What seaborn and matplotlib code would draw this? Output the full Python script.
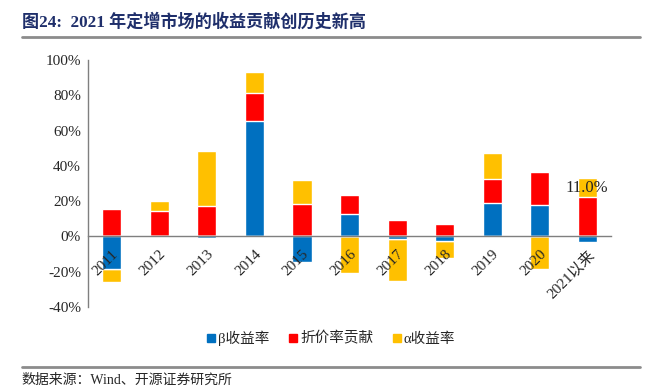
import numpy as np
import pandas as pd
import matplotlib
matplotlib.use("Agg")
import matplotlib.pyplot as plt
import seaborn as sns
from matplotlib.lines import Line2D

# ---------------- data ----------------
years = ["2011", "2012", "2013", "2014", "2015", "2016",
         "2017", "2018", "2019", "2020", "2021以来"]
beta = [-18.3, 0.0, -1.1, 65.5, -14.7, 12.5, -1.7, -2.5, 18.9, 17.7, -3.4]
discount = [15.5, 14.3, 17.0, 16.0, 18.1, 10.7, 9.2, 6.8, 13.9, 19.1, 22.1]
alpha = [-7.7, 5.9, 31.7, 11.9, 14.0, -20.8, -23.8, -10.0, 14.6, -18.5, 11.1]
series_names = ["β收益率", "折价率贡献", "α收益率"]
colors = ["#0070C0", "#FF0000", "#FFC000"]

# ---------------- style ----------------
sns.set_style("white")
plt.rcParams["font.family"] = ["Liberation Serif", "Noto Sans CJK SC"]
plt.rcParams["axes.unicode_minus"] = False

fig = plt.figure(figsize=(6.62, 3.9), dpi=100)
ax = fig.add_axes([0.133, 0.213, 0.79, 0.633])

# stacked bars (positive and negative parts stacked separately, blue->red->yellow outward)
vals = np.array([beta, discount, alpha])
pos = np.cumsum(np.clip(vals, 0, None), axis=0)
neg = np.cumsum(np.clip(vals, None, 0), axis=0)

for i in [2, 1, 0]:
    for stack in (pos, neg):
        df = pd.DataFrame({"year": years, "v": stack[i]})
        sns.barplot(data=df, x="year", y="v", color=colors[i], width=0.4,
                    saturation=1, ax=ax, order=years)

# label for 2021
ax.text(10, discount[10] + alpha[10] / 2, "11.0%", ha="center", va="center",
        fontsize=12, color="#262626", zorder=5)

# ---------------- axes ----------------
ax.set_axisbelow(False)
ax.set_ylim(-40, 100)
ax.set_xlim(-0.5, 10.5)
ax.set_yticks(np.arange(-40, 101, 20))
ax.set_yticklabels([f"{v}%" for v in range(-40, 101, 20)], fontsize=11)
ax.set_xlabel("")
ax.set_ylabel("")

ax.spines["bottom"].set_position(("data", 0))
for s in ["top", "right"]:
    ax.spines[s].set_visible(False)
for s in ["left", "bottom"]:
    ax.spines[s].set_color("#7f7f7f")
    ax.spines[s].set_linewidth(1.0)
    ax.spines[s].set_zorder(4)

ax.set_xticks(range(len(years)))
ax.set_xticklabels(years, rotation=45, ha="right", rotation_mode="anchor",
                   fontsize=11)
ax.tick_params(axis="x", which="major", length=0, pad=8)
ax.set_xticks(np.arange(-0.5, 10.6, 1), minor=True)
ax.tick_params(axis="x", which="minor", direction="in", length=4,
               color="#595959", width=1)
ax.tick_params(axis="y", direction="out", length=3, color="#595959", pad=2)
for lab in ax.get_xticklabels():
    lab.set_zorder(6)

# ---------------- legend ----------------
handles = [Line2D([0], [0], marker="s", linestyle="", markersize=6,
                  markerfacecolor=c, markeredgecolor=c) for c in colors]
fig.legend(handles, series_names, loc="center", bbox_to_anchor=(0.5, 0.133),
           ncol=3, frameon=False, fontsize=10.5, handlelength=0.6,
           handletextpad=0.2, columnspacing=1.3)

# ---------------- title / footer ----------------
fig.text(0.033, 0.943, "图24:  2021 年定增市场的收益贡献创历史新高",
         fontsize=12.3, fontweight="bold", color="#1F2F6B", va="center")
fig.add_artist(Line2D([0.033, 0.967], [0.905, 0.905], color="#8c8c8c",
                      lw=2, transform=fig.transFigure))
fig.add_artist(Line2D([0.033, 0.967], [0.06, 0.06], color="#8c8c8c",
                      lw=2, transform=fig.transFigure))
fig.text(0.033, 0.025, "数据来源：Wind、开源证券研究所", fontsize=10,
         color="#262626", va="center")

fig.savefig("out.png", dpi=100)
